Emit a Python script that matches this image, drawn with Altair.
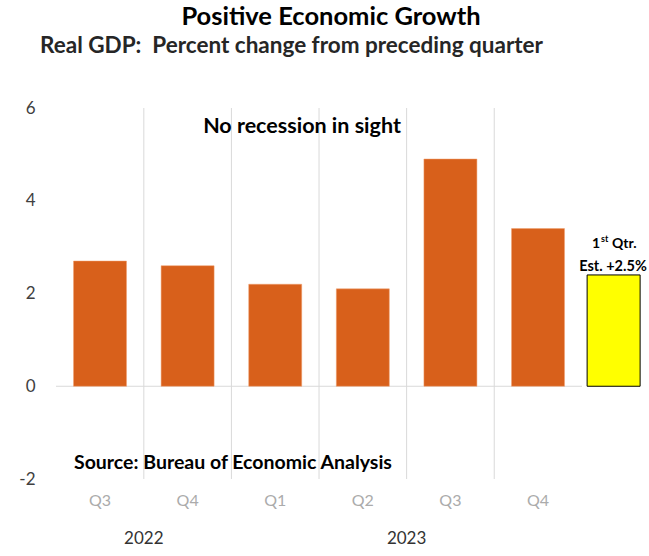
import altair as alt
import pandas as pd

# ---- data ----
quarters = ["Q3", "Q4", "Q1", "Q2", "Q3", "Q4"]
years = ["2022", "2022", "2023", "2023", "2023", "2023"]
gdp_change = [2.7, 2.6, 2.2, 2.1, 4.9, 3.4]
estimate_value = 2.4
year_groups = ["2022", "2023"]
y_ticks = [-2, 0, 2, 4, 6]

title_text = "Positive Economic Growth"
subtitle_text = "Real GDP:\u00a0 Percent change from preceding quarter"
note_text = "No recession in sight"
source_text = "Source: Bureau of Economic Analysis"

keys = [f"{y} {q}" for y, q in zip(years, quarters)]
est_key = "2024 Q1 est"
domain = keys + [est_key]

bars_df = pd.DataFrame({"key": keys, "gdp": gdp_change})
est_df = pd.DataFrame({"key": [est_key], "gdp": [estimate_value]})
grid_df = pd.DataFrame({"key": keys[:-1]})
year_df = pd.DataFrame({"key": [keys[1], keys[4]], "year": year_groups})

FONT = "Lato"
W, H = 526, 371
STEP = 87.6
ORANGE = "#D8601B"
GRID = "#d9d9d9"

x_scale = alt.Scale(domain=domain, range=[0, STEP * (7 - 0.395 + 0.4)],
                    paddingInner=0.395, paddingOuter=0.2)
y_scale = alt.Scale(domain=[-2, 6], nice=False, zero=False)

x_axis = alt.Axis(
    title=None, domain=False, ticks=False, grid=False,
    labelExpr="indexof(datum.value, 'est') >= 0 ? '' : split(datum.value, ' ')[1]",
    labelColor="#ababab", labelFontSize=16, labelPadding=13, labelFont=FONT,
    labelAngle=0,
)
y_axis = alt.Axis(
    title=None, domain=False, ticks=False, grid=False, values=y_ticks,
    labelExpr="datum.value < 0 ? '-' + abs(datum.value) : '' + datum.value",
    labelColor="#404040", labelFontSize=17, labelPadding=21, labelFont=FONT,
)

def X(**kw):
    return alt.X("key:N", scale=x_scale, sort=domain, axis=x_axis, **kw)

def Y(field):
    return alt.Y(field, scale=y_scale, axis=y_axis)

grid_layer = alt.Chart(grid_df).mark_rule(color=GRID, strokeWidth=1, xOffset=STEP / 2).encode(
    x=X(bandPosition=0.5)
)
zero_layer = alt.Chart(pd.DataFrame({"z": [0]})).mark_rule(color=GRID, strokeWidth=1).encode(
    y=Y("z:Q")
)
bar_layer = alt.Chart(bars_df).mark_bar(color=ORANGE, stroke="#f0a070", strokeWidth=0.5).encode(
    x=X(),
    y=Y("gdp:Q"),
)
est_layer = alt.Chart(est_df).mark_bar(color="#FFFF00", stroke="black", strokeWidth=1, xOffset=-12).encode(
    x=X(),
    y=Y("gdp:Q"),
)
year_layer = alt.Chart(year_df).mark_text(
    font=FONT, fontSize=17, color="#333333", xOffset=-STEP / 2, baseline="middle"
).encode(
    x=X(bandPosition=0.5),
    y=alt.value(431),
    text="year:N",
)

def label(text, x, y, size, align="left", weight="bold", color="black"):
    return alt.Chart(pd.DataFrame({"t": [text]})).mark_text(
        font=FONT, fontSize=size, fontWeight=weight, color=color,
        align=align, baseline="alphabetic",
    ).encode(x=alt.value(x), y=alt.value(y), text="t:N")

texts = [
    label(title_text, 275, -83, 25.5, align="center"),
    label(subtitle_text, -16, -55, 22.5, color="#262626"),
    label(note_text, 246, 25, 21.5, align="center"),
    label(source_text, 18, 361, 19.5),
    label("1", 544, 140, 14, align="right"),
    label("st", 545, 134, 9),
    label("Qtr.", 556, 140, 14),
    label("Est. +2.5%", 557, 163, 14.5, align="center"),
]

chart = alt.layer(grid_layer, zero_layer, bar_layer, est_layer, year_layer, *texts).properties(
    width=W, height=H,
    autosize=alt.AutoSizeParams(type="none"),
    padding={"left": 56, "top": 108, "right": 67, "bottom": 77},
    background="white",
).configure(font=FONT).configure_view(stroke=None)

chart.save("out.html", embed_options={"renderer": "svg", "actions": False})
